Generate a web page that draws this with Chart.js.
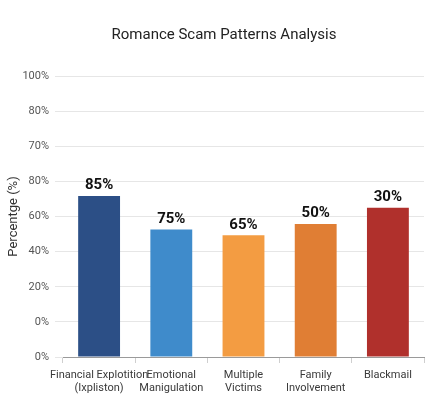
<!DOCTYPE html>
<html>
<head>
<meta charset="utf-8">
<script src="https://cdn.jsdelivr.net/npm/chart.js@4/dist/chart.umd.min.js"></script>
<style>
  html, body { margin: 0; padding: 0; background: #fff; }
  #wrap { width: 439px; height: 398px; position: relative; }
</style>
</head>
<body>
<div id="wrap"><canvas id="scam-chart"></canvas></div>
<script>
// Chart data
const chartTitle = 'Romance Scam Patterns Analysis';
const categories = [
  ['Financial Explotition', '(Ixpliston)'],
  ['Emotional', 'Manigulation'],
  ['Multiple', 'Victims'],
  ['Family', 'Involvement'],
  ['Blackmail']
];
// bar heights as drawn, on the 0-100 axis
const barValues = [57.3, 45.4, 43.3, 47.3, 53.1];
// labels printed above the bars
const barLabels = ['85%', '75%', '65%', '50%', '30%'];
// y tick labels, bottom to top
const yTickLabels = ['0%', '0%', '20%', '40%', '60%', '80%', '70%', '80%', '100%'];
const barColors = ['#2c4f86', '#3f8bcb', '#f39c42', '#e07e34', '#b0302c'];

// Draws the value labels above each bar
const barLabelPlugin = {
  id: 'barLabels',
  afterDatasetsDraw(chart) {
    const ctx = chart.ctx;
    const meta = chart.getDatasetMeta(0);
    ctx.save();
    ctx.font = 'bold 15px Roboto';
    ctx.fillStyle = '#111';
    ctx.textAlign = 'center';
    ctx.textBaseline = 'bottom';
    meta.data.forEach((bar, i) => {
      ctx.fillText(barLabels[i], bar.x, bar.y - 3);
    });
    ctx.restore();
  }
};

// Title sits a little right of the canvas centre, so draw it here
const titlePlugin = {
  id: 'offsetTitle',
  afterDraw(chart) {
    const ctx = chart.ctx;
    ctx.save();
    ctx.font = '15px Roboto';
    ctx.fillStyle = '#222';
    ctx.textAlign = 'center';
    ctx.textBaseline = 'middle';
    ctx.fillText(chartTitle, 224, 35);
    ctx.restore();
  }
};

new Chart(document.getElementById('scam-chart'), {
  type: 'bar',
  data: {
    labels: categories,
    datasets: [{
      data: barValues,
      backgroundColor: barColors,
      borderWidth: 0,
      barPercentage: 0.58,
      categoryPercentage: 1
    }]
  },
  options: {
    responsive: true,
    maintainAspectRatio: false,
    animation: false,
    layout: { padding: { left: 0, right: 15, top: 76, bottom: 0 } },
    plugins: {
      legend: { display: false },
      tooltip: { enabled: false },
      title: { display: false }
    },
    scales: {
      x: {
        grid: { drawOnChartArea: false, color: '#cfcfcf', tickLength: 6 },
        border: { color: '#9a9a9a' },
        ticks: {
          color: '#3a3a3a',
          font: { family: 'Roboto', size: 11, lineHeight: 1.15 },
          maxRotation: 0,
          autoSkip: false,
          padding: 6
        },
        afterFit(scale) { scale.height = 41; }
      },
      y: {
        min: 0,
        max: 100,
        grid: { color: '#e6e6e6', tickLength: 8 },
        border: { display: false },
        ticks: {
          stepSize: 12.5,
          color: '#555',
          font: { family: 'Roboto', size: 11 },
          padding: 6,
          callback: function(value, index) {
            return yTickLabels[index];
          }
        },
        title: {
          display: true,
          text: 'Percentge (%)',
          color: '#333',
          font: { family: 'Roboto', size: 13 },
          padding: { top: 6, bottom: 0 }
        },
        afterFit(scale) { scale.width = 63; }
      }
    }
  },
  plugins: [barLabelPlugin, titlePlugin]
});
</script>
</body>
</html>
